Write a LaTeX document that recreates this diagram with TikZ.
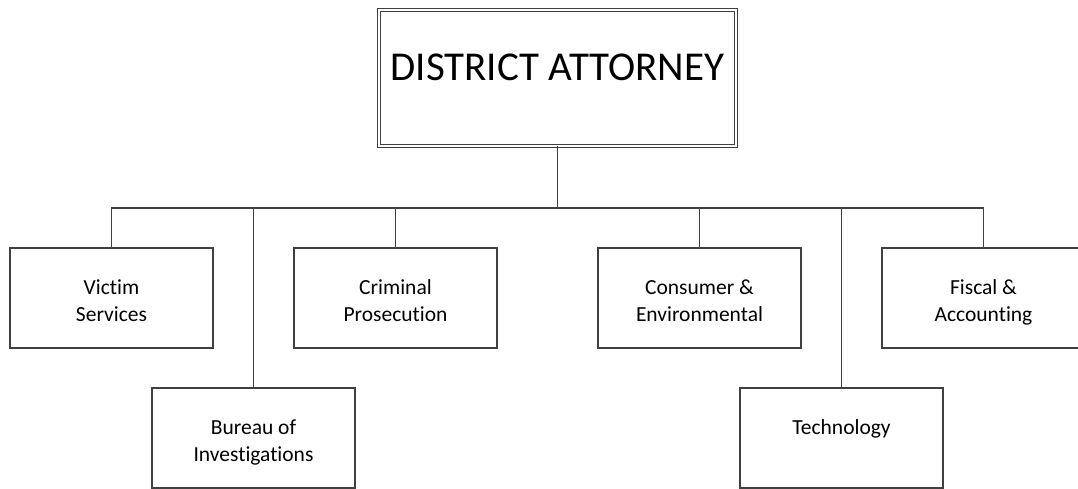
\documentclass[tikz,border=0pt]{standalone}
\usepackage{fontspec}
\setmainfont{Carlito}[Ligatures=NoCommon]
\usetikzlibrary{positioning}

\begin{document}
\begin{tikzpicture}[x=1pt, y=-1pt,
    link/.style={line width=1.2pt, draw=black!75},
    headbox/.style={draw=black!75, line width=0.9pt, double, double distance=2.4pt,
        minimum width=357pt, minimum height=136pt, inner sep=0pt,
        font=\fontsize{41}{48}\selectfont},
    unitbox/.style={draw=black!75, line width=1.2pt, fill=white,
        minimum width=203pt, minimum height=100pt, inner sep=0pt, align=center,
        text height=50pt, text depth=4pt,
        font=\fontsize{21.5}{27}\selectfont}]
    % Frame
    \useasboundingbox (0,0) rectangle (1078,489);
    \clip (0,0) rectangle (1078,489);

    % Head
    \node[headbox] (da) at (557.5,78) {\smash{\raisebox{-3pt}{DISTRICT ATTORNEY}}};
    \coordinate (bus) at (557.5,208);

    % First row
    \node[unitbox] (vs) at (111.5,298) {Victim\\Services};
    \node[unitbox] (cp) at (395.5,298) {Criminal\\Prosecution};
    \node[unitbox] (ce) at (699.5,298) {Consumer \&\\Environmental};
    \node[unitbox] (fa) at (983.5,298) {Fiscal \&\\Accounting};

    % Second row
    \node[unitbox] (bi) at (253.5,438) {Bureau of\\Investigations};
    \node[unitbox] (te) at (841.5,438) {Technology\\\phantom{Ag}};

    % Connectors
    \draw[link] (da.south) -- (da.south |- bus);
    \draw[link] (vs.north) -- (vs.north |- bus) -- (fa.north |- bus) -- (fa.north);
    \draw[link] (cp.north) -- (cp.north |- bus);
    \draw[link] (ce.north) -- (ce.north |- bus);
    \draw[link] (bi.north) -- (bi.north |- bus);
    \draw[link] (te.north) -- (te.north |- bus);
\end{tikzpicture}
\end{document}
